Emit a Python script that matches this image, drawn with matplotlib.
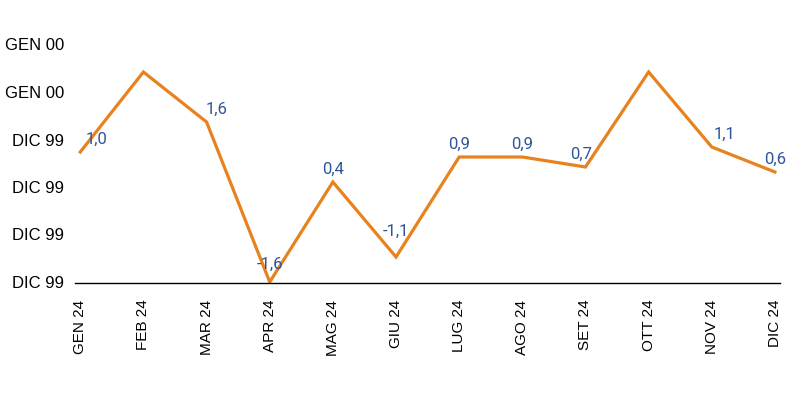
import matplotlib.pyplot as plt

# Dati
mesi = ['GEN 24', 'FEB 24', 'MAR 24', 'APR 24', 'MAG 24', 'GIU 24',
        'LUG 24', 'AGO 24', 'SET 24', 'OTT 24', 'NOV 24', 'DIC 24']
valori = [1.0, 2.6, 1.6, -1.6, 0.4, -1.1, 0.9, 0.9, 0.7, 2.6, 1.1, 0.6]
etichette = ['1,0', '', '1,6', '-1,6', '0,4', '-1,1',
             '0,9', '0,9', '0,7', '', '1,1', '0,6']
tick_y = [-1.6, -0.65, 0.3, 1.25, 2.2, 3.15]
tick_y_labels = ['DIC 99', 'DIC 99', 'DIC 99', 'DIC 99', 'GEN 00', 'GEN 00']

plt.rcParams['font.family'] = ['Liberation Sans', 'DejaVu Sans']

fig = plt.figure(figsize=(8, 4), dpi=100)
ax = fig.add_axes([0.094, 0.2925, 0.881, 0.615])

x = list(range(len(mesi)))
ax.plot(x, valori, color='#E8821E', linewidth=2.3, solid_joinstyle='miter')

# etichette dei dati (spostamenti in punti per alcune)
dx = {0: 12, 2: 7, 10: 9, 8: -3}
dy = {3: 7, 5: 13}
for i, (v, lab) in enumerate(zip(valori, etichette)):
    if lab:
        ax.annotate(lab, (i, v), xytext=(dx.get(i, 0), dy.get(i, 4)), textcoords='offset points',
                    ha='center', va='bottom', fontsize=12, color='#2F5597',
                    family=['Roboto', 'DejaVu Sans'])

ax.set_xlim(-0.08, 11.08)
ax.set_ylim(-1.62, 3.3)
ax.set_xticks(x)
ax.set_xticklabels(mesi, rotation=90, fontsize=11)
ax.set_yticks(tick_y)
ax.set_yticklabels(tick_y_labels, fontsize=12)
ax.tick_params(axis='both', length=0)
ax.tick_params(axis='x', pad=12)
ax.tick_params(axis='y', pad=8)

for s in ['top', 'right', 'left']:
    ax.spines[s].set_visible(False)
ax.spines['bottom'].set_color('black')
ax.spines['bottom'].set_linewidth(1)

fig.savefig('out.png', dpi=100)
